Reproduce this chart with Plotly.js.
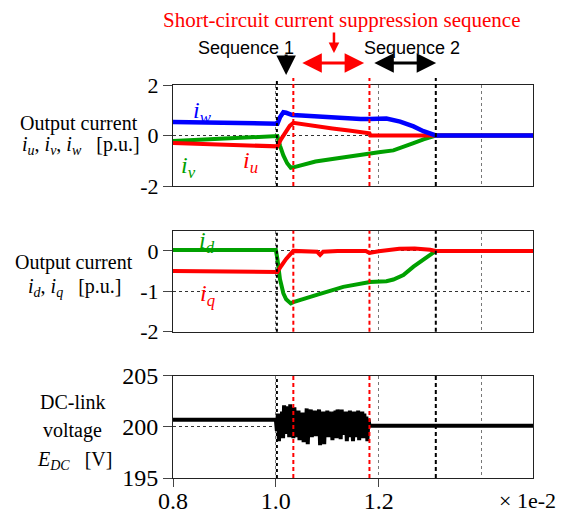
<!DOCTYPE html>
<html>
<head>
<meta charset="utf-8">
<script src="https://cdn.plot.ly/plotly-3.0.1.min.js"></script>
<style>html,body{margin:0;padding:0;background:#fff;}#chart{width:577px;height:514px;}</style>
</head>
<body>
<div id="chart"></div>
<script>
// ---- data (time in units of 1e-2 s) ----
var tW = [0.8, 0.85, 0.9, 0.95, 1.0, 1.003, 1.008, 1.0146, 1.02, 1.026, 1.032, 1.05, 1.077, 1.11, 1.142, 1.165, 1.182, 1.2, 1.215, 1.2416, 1.2676, 1.287, 1.311, 1.5];
var iw = [0.53, 0.52, 0.5, 0.48, 0.46, 0.47, 0.72, 0.92, 0.9, 0.85, 0.81, 0.79, 0.75, 0.71, 0.67, 0.65, 0.65, 0.68, 0.67, 0.55, 0.36, 0.17, 0.0, 0.0];

var tU = [0.8, 0.9, 1.0, 1.003, 1.01, 1.02, 1.027, 1.034, 1.05, 1.077, 1.11, 1.142, 1.165, 1.182, 1.184, 1.5];
var iu = [-0.3, -0.37, -0.43, -0.43, -0.15, 0.15, 0.38, 0.5, 0.45, 0.36, 0.28, 0.2, 0.14, 0.09, 0.0, 0.0];

var tV = [0.8, 0.9, 1.0, 1.003, 1.008, 1.0146, 1.022, 1.029, 1.034, 1.05, 1.077, 1.11, 1.142, 1.182, 1.2, 1.2285, 1.248, 1.2676, 1.287, 1.311, 1.5];
var iv = [-0.22, -0.12, 0.0, -0.02, -0.4, -0.79, -1.1, -1.28, -1.26, -1.16, -1.03, -0.93, -0.83, -0.68, -0.66, -0.59, -0.46, -0.3, -0.15, 0.0, 0.0];

var tD = [0.8, 1.0, 1.003, 1.008, 1.0146, 1.02, 1.029, 1.034, 1.0795, 1.131, 1.183, 1.2, 1.215, 1.2285, 1.248, 1.2676, 1.287, 1.311, 1.5];
var id = [0.02, 0.02, -0.2, -0.7, -1.05, -1.2, -1.3, -1.27, -1.09, -0.89, -0.77, -0.77, -0.75, -0.71, -0.6, -0.39, -0.21, 0.0, 0.0];

var tQ = [0.8, 1.0, 1.003, 1.01, 1.02, 1.034, 1.06, 1.08, 1.086, 1.092, 1.12, 1.15, 1.175, 1.182, 1.2, 1.24, 1.27, 1.3, 1.311, 1.5];
var iq = [-0.5, -0.5, -0.52, -0.38, -0.2, 0.0, 0.0, -0.02, -0.1, -0.02, 0.0, -0.01, 0.0, -0.05, -0.01, 0.05, 0.06, 0.03, 0.0, 0.0];

var tE = [0.8, 1.0, 1.002, 1.004, 1.006, 1.008, 1.010, 1.012, 1.014, 1.016, 1.018, 1.020, 1.022, 1.024, 1.026, 1.028, 1.030, 1.032, 1.034, 1.036, 1.038, 1.040, 1.042, 1.044, 1.046, 1.048, 1.050, 1.052, 1.054, 1.056, 1.058, 1.060, 1.062, 1.064, 1.066, 1.068, 1.070, 1.072, 1.074, 1.076, 1.078, 1.080, 1.082, 1.084, 1.086, 1.088, 1.090, 1.092, 1.094, 1.096, 1.098, 1.100, 1.102, 1.104, 1.106, 1.108, 1.110, 1.112, 1.114, 1.116, 1.118, 1.120, 1.122, 1.124, 1.126, 1.128, 1.130, 1.132, 1.134, 1.136, 1.138, 1.140, 1.142, 1.144, 1.146, 1.148, 1.150, 1.152, 1.154, 1.156, 1.158, 1.160, 1.162, 1.164, 1.166, 1.168, 1.170, 1.172, 1.174, 1.176, 1.178, 1.180, 1.182, 1.5];
var edc = [200.7, 200.7, 199.6, 201.3, 198.6, 201.0, 199.2, 201.5, 198.9, 202.1, 199.3, 202.0, 199.8, 201.8, 199.0, 202.2, 199.5, 201.6, 198.9, 201.9, 199.4, 201.2, 199.0, 201.6, 198.7, 201.0, 199.6, 201.4, 198.5, 201.1, 199.2, 201.8, 198.3, 200.9, 199.5, 201.7, 199.0, 201.4, 199.6, 201.6, 199.1, 201.2, 199.4, 201.7, 198.2, 201.3, 199.0, 201.5, 198.3, 201.4, 199.5, 201.6, 199.0, 201.5, 199.4, 201.1, 198.7, 201.5, 199.3, 201.6, 198.9, 201.7, 199.5, 201.3, 198.8, 201.7, 199.2, 201.4, 199.6, 201.5, 198.6, 201.2, 199.0, 201.6, 199.3, 201.0, 198.6, 201.5, 199.4, 201.2, 199.0, 201.6, 198.7, 201.4, 199.3, 201.5, 198.9, 201.3, 199.5, 201.0, 198.6, 200.8, 200.1, 200.1];

// event markers
var eventBlackDot = [1.002];
var eventRed = [1.034, 1.182];
var eventBlackDash = [1.311];

// tick labels
var xTickVals = [0.8, 1.0, 1.2];
var xTickText = ['0.8', '1.0', '1.2'];
var xMinorGrid = [1.4];
var y1Ticks = [-2, 0, 2], y1Text = ['-2', '0', '2'];
var y2Ticks = [-2, -1, 0], y2Text = ['-2', '-1', '0'];
var y3Ticks = [195, 200, 205], y3Text = ['195', '200', '205'];

var BLUE = '#0000ff', RED = '#ff0000', GREEN = '#00a000';
var SERIF = 'Liberation Serif, Times New Roman, serif';
var SANS = 'Liberation Sans, Arial, sans-serif';

var traces = [
  {x: tV, y: iv, xaxis: 'x', yaxis: 'y', mode: 'lines', line: {color: GREEN, width: 4}},
  {x: tU, y: iu, xaxis: 'x', yaxis: 'y', mode: 'lines', line: {color: RED, width: 4}},
  {x: tW, y: iw, xaxis: 'x', yaxis: 'y', mode: 'lines', line: {color: BLUE, width: 4.5}},
  {x: tD, y: id, xaxis: 'x2', yaxis: 'y2', mode: 'lines', line: {color: GREEN, width: 4}},
  {x: tQ, y: iq, xaxis: 'x2', yaxis: 'y2', mode: 'lines', line: {color: RED, width: 4}},
  {x: tE, y: edc, xaxis: 'x3', yaxis: 'y3', mode: 'lines', line: {color: '#000', width: 4}}
];

function xAxis(anchor, showLabels) {
  return {
    anchor: anchor, domain: [0, 1], range: [0.8, 1.5],
    tickmode: 'array', tickvals: xTickVals, ticktext: xTickText,
    showticklabels: showLabels, ticks: showLabels ? 'outside' : '', ticklen: 8, tickcolor: '#444',
    ticklabelstandoff: -7,
    tickfont: {family: SERIF, size: 24, color: '#000'},
    showgrid: true, gridcolor: '#777', griddash: 'dot', gridwidth: 1,
    minor: {tickmode: 'array', tickvals: xMinorGrid, showgrid: true, gridcolor: '#777', griddash: 'dot', gridwidth: 1, ticks: ''},
    showline: true, mirror: true, linecolor: '#222', linewidth: 1, zeroline: false
  };
}
function yAxis(anchor, domain, range, vals, text, fs) {
  return {
    anchor: anchor, domain: domain, range: range,
    tickmode: 'array', tickvals: vals, ticktext: text,
    ticks: 'outside', ticklen: 9, tickcolor: '#444',
    tickfont: {family: SERIF, size: fs, color: '#000'},
    showgrid: true, gridcolor: '#333', griddash: 'dot', gridwidth: 1,
    showline: true, mirror: true, linecolor: '#222', linewidth: 1, zeroline: false
  };
}

var shapes = [];
var panels = [['x', 'y domain', 1.07], ['x2', 'y2 domain', 1.0], ['x3', 'y3 domain', 1.0]];
panels.forEach(function (p) {
  eventBlackDot.forEach(function (t) {
    shapes.push({type: 'line', xref: p[0], yref: p[1], x0: t, x1: t, y0: 0, y1: p[2], line: {color: '#000', width: 2, dash: 'dot'}});
  });
  eventRed.forEach(function (t) {
    shapes.push({type: 'line', xref: p[0], yref: p[1], x0: t, x1: t, y0: 0, y1: p[2], line: {color: RED, width: 2, dash: '4px,3px'}});
  });
  eventBlackDash.forEach(function (t) {
    shapes.push({type: 'line', xref: p[0], yref: p[1], x0: t, x1: t, y0: 0, y1: p[2], line: {color: '#000', width: 2, dash: '4px,3px'}});
  });
});

function lab(text, x, y, size, color, family) {
  return {xref: 'paper', yref: 'paper', x: x, y: y, xanchor: 'center', yanchor: 'middle', showarrow: false,
    text: text, font: {family: family || SERIF, size: size, color: color || '#000'}};
}
var NB = '\u00a0';
function sym(main, sub) { return '<i>' + main + '</i><sub><i>' + sub + '</i></sub>'; }

var annotations = [
  lab('Short-circuit current suppression sequence', 0.4667, 1.1654, 21, RED),
  lab('Sequence 1', 0.2028, 1.0941, 18, '#000', SANS),
  lab('Sequence 2', 0.6639, 1.0941, 18, '#000', SANS),
  lab('Output current', -0.2611, 0.9008, 20),
  lab(sym('i', 'u') + ', ' + sym('i', 'v') + ', ' + sym('i', 'w') + NB + NB + NB + '[p.u.]', -0.2556, 0.8448, 20),
  lab('Output current', -0.275, 0.5496, 20),
  lab(sym('i', 'd') + ', ' + sym('i', 'q') + NB + NB + NB + '[p.u.]', -0.2736, 0.486, 20),
  lab('DC-link', -0.2778, 0.1934, 20),
  lab('voltage', -0.2778, 0.1221, 20),
  lab(sym('E', 'DC') + NB + NB + NB + '[V]', -0.2736, 0.0458, 20),
  lab(sym('i', 'w'), 0.0833, 0.9313, 24, BLUE),
  lab(sym('i', 'v'), 0.0417, 0.7913, 24, GREEN),
  lab(sym('i', 'u'), 0.2139, 0.8041, 24, RED),
  lab(sym('i', 'd'), 0.0944, 0.6005, 24, GREEN),
  lab(sym('i', 'q'), 0.0972, 0.4656, 24, RED),
  lab('\u00d7 1e-2', 0.9861, -0.0560, 22),
  // arrows
  {xref: 'x', yref: 'paper', x: 1.02, y: 1.0254, ax: 0, ay: -22, text: '', showarrow: true,
   arrowhead: 2, arrowwidth: 3, arrowsize: 1.3, arrowcolor: '#000'},
  {xref: 'x', yref: 'paper', x: 1.113, y: 1.0814, ax: 0, ay: -22, text: '', showarrow: true,
   arrowhead: 2, arrowwidth: 2.5, arrowsize: 0.85, arrowcolor: RED},
  {xref: 'x', yref: 'paper', x: 1.1716, y: 1.056, axref: 'x', ax: 1.0485, ay: 0, text: '', showarrow: true,
   arrowhead: 2, arrowside: 'end+start', arrowwidth: 3, arrowsize: 1.3, arrowcolor: RED},
  {xref: 'x', yref: 'paper', x: 1.3117, y: 1.056, axref: 'x', ax: 1.1885, ay: 0, text: '', showarrow: true,
   arrowhead: 2, arrowside: 'end+start', arrowwidth: 3, arrowsize: 1.3, arrowcolor: '#000'}
];

var layout = {
  width: 577, height: 514,
  margin: {l: 173, r: 44, t: 85, b: 36},
  paper_bgcolor: '#fff', plot_bgcolor: '#fff',
  showlegend: false,
  xaxis: xAxis('y', false),
  xaxis2: xAxis('y2', false),
  xaxis3: xAxis('y3', true),
  yaxis: yAxis('x', [0.743, 1], [-2, 2], y1Ticks, y1Text, 22),
  yaxis2: yAxis('x2', [0.3723, 0.6293], [-2, 0.5], y2Ticks, y2Text, 22),
  yaxis3: yAxis('x3', [0, 0.2603], [195, 205], y3Ticks, y3Text, 24),
  shapes: shapes,
  annotations: annotations
};

Plotly.newPlot('chart', traces, layout, {displayModeBar: false, staticPlot: true});
</script>
</body>
</html>
